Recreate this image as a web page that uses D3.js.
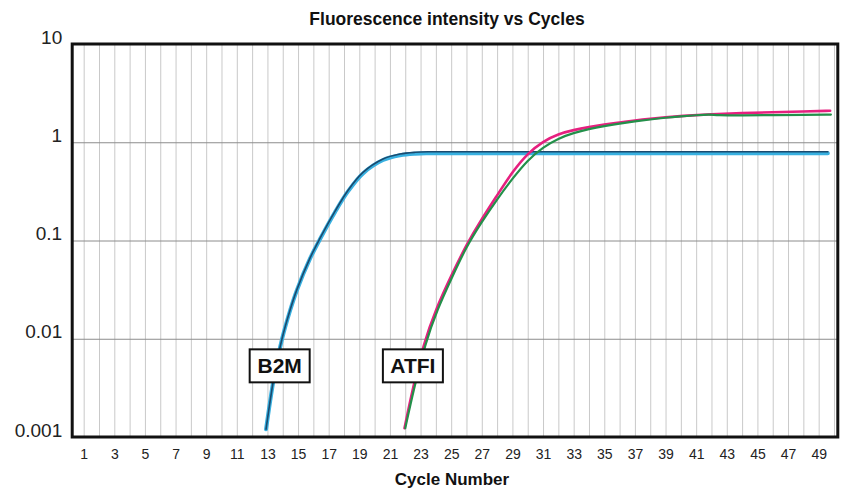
<!DOCTYPE html>
<html>
<head>
<meta charset="utf-8">
<script src="https://cdn.jsdelivr.net/npm/d3@7/dist/d3.min.js"></script>
<style>
  html, body { margin: 0; padding: 0; background: #fff; }
  svg { display: block; }
</style>
</head>
<body>
<svg id="chart" width="843" height="493"></svg>
<script>
// ---------------- data ----------------
const chartTitle = "Fluorescence intensity vs Cycles";
const xAxisTitle = "Cycle Number";
const xTickValues = [1,3,5,7,9,11,13,15,17,19,21,23,25,27,29,31,33,35,37,39,41,43,45,47,49];
const xGridValues = d3.range(1, 51);
const yTickValues = [0.001, 0.01, 0.1, 1, 10];
const yTickLabels = ["0.001", "0.01", "0.1", "1", "10"];

// B2M replicate 1 (light blue)
const b2mCyanCycles = [12.91, 13.43, 13.95, 14.48, 14.93, 15.78, 16.43, 17.41, 18.26, 19.24, 20.55, 21.66, 22.64, 23.62, 35, 49.6];
const b2mCyanValues = [0.0012, 0.00405, 0.00987, 0.0194, 0.0314, 0.0653, 0.103, 0.194, 0.316, 0.482, 0.659, 0.737, 0.765, 0.772, 0.772, 0.772];
// B2M replicate 2 (dark blue)
const b2mNavyCycles = [12.91, 13.43, 13.95, 14.48, 14.93, 15.78, 16.43, 17.41, 18.26, 19.24, 20.55, 21.66, 22.64, 23.62, 35, 49.6];
const b2mNavyValues = [0.0012, 0.00408, 0.00995, 0.0196, 0.0318, 0.0662, 0.105, 0.198, 0.323, 0.493, 0.675, 0.758, 0.79, 0.80, 0.80, 0.80];

// ATFI replicate 1 (magenta)
const atfiPinkCycles = [21.95, 22.5, 23.2, 24, 25, 26, 27, 28, 29, 30, 31, 32, 33, 34, 35, 36, 37, 38, 39, 40, 42, 44, 46, 48, 49.75];
const atfiPinkValues = [0.00123, 0.00316, 0.00891, 0.0200, 0.0437, 0.0912, 0.166, 0.288, 0.501, 0.773, 1.023, 1.216, 1.334, 1.429, 1.514, 1.585, 1.667, 1.738, 1.799, 1.854, 1.928, 1.982, 2.023, 2.061, 2.089];
// ATFI replicate 2 (green)
const atfiGreenCycles = [22.0, 22.55, 23.3, 24.1, 25.1, 26, 27, 28, 29, 30, 31, 32, 33, 34, 35, 36, 37, 38, 39, 40, 41, 41.9, 42.3, 44, 46, 48, 49.8];
const atfiGreenValues = [0.00123, 0.00302, 0.00891, 0.0200, 0.0437, 0.0871, 0.155, 0.263, 0.427, 0.661, 0.891, 1.096, 1.245, 1.365, 1.462, 1.549, 1.629, 1.706, 1.778, 1.832, 1.884, 1.923, 1.884, 1.875, 1.888, 1.901, 1.914];

const labelNames = ["B2M", "ATFI"];
const labelCycles = [13.8, 22.5];
const labelValues = [0.0053, 0.0053];

// ---------------- layout ----------------
const plot = { left: 72.2, right: 837.8, top: 44, bottom: 437 };

const svg = d3.select("#chart");
const x = d3.scaleLinear().domain([0.25, 50.25]).range([plot.left, plot.right]);
const y = d3.scaleLog().domain([0.001, 10]).range([plot.bottom, plot.top]);

const font = "'Liberation Sans', Arial, Helvetica, sans-serif";
const narrow = "'Liberation Sans Narrow', 'Arial Narrow', 'Liberation Sans', Arial, sans-serif";

// vertical grid
svg.append("g")
  .attr("transform", `translate(0,${plot.bottom})`)
  .call(d3.axisBottom(x).tickValues(xGridValues).tickSize(-(plot.bottom - plot.top)).tickFormat(""))
  .call(g => g.select(".domain").remove())
  .call(g => g.selectAll("line").attr("stroke", "#c9c9c9").attr("stroke-width", 1));

// horizontal grid
svg.append("g")
  .attr("transform", `translate(${plot.left},0)`)
  .call(d3.axisLeft(y).tickValues([0.01, 0.1, 1]).tickSize(-(plot.right - plot.left)).tickFormat(""))
  .call(g => g.select(".domain").remove())
  .call(g => g.selectAll("line").attr("stroke", "#8c8c8c").attr("stroke-width", 1));

// series
const zip = (a, b) => a.map((v, i) => [v, b[i]]);
const mkLine = curve => d3.line().x(d => x(d[0])).y(d => y(d[1])).curve(curve);
const smoothB2M = mkLine(d3.curveCatmullRom.alpha(0.5));
const smoothATFI = mkLine(d3.curveBasis);

const series = [
  { c: b2mCyanCycles, v: b2mCyanValues, color: "#38b0e0", w: 4, gen: smoothB2M },
  { c: b2mNavyCycles, v: b2mNavyValues, color: "#1b4a6e", w: 1.6, gen: smoothB2M },
  { c: atfiPinkCycles, v: atfiPinkValues, color: "#e6207f", w: 2.6, gen: smoothATFI },
  { c: atfiGreenCycles, v: atfiGreenValues, color: "#23904a", w: 2.2, gen: smoothATFI }
];
svg.append("g").selectAll("path").data(series).join("path")
  .attr("d", s => s.gen(zip(s.c, s.v)))
  .attr("fill", "none")
  .attr("stroke", s => s.color)
  .attr("stroke-width", s => s.w)
  .attr("stroke-linecap", "round")
  .attr("stroke-linejoin", "round");

// frame
svg.append("rect")
  .attr("x", plot.left).attr("y", plot.top)
  .attr("width", plot.right - plot.left).attr("height", plot.bottom - plot.top)
  .attr("fill", "none").attr("stroke", "#111").attr("stroke-width", 3);

// x tick labels
svg.append("g")
  .attr("transform", `translate(0,${plot.bottom})`)
  .call(d3.axisBottom(x).tickValues(xTickValues).tickSize(0).tickPadding(12).tickFormat(d3.format("d")))
  .call(g => g.select(".domain").remove())
  .call(g => g.selectAll("text").attr("font-family", narrow).attr("font-size", 14).attr("fill", "#222"));

// y tick labels
svg.append("g")
  .attr("transform", `translate(${plot.left},0)`)
  .call(d3.axisLeft(y).tickValues(yTickValues).tickSize(0).tickPadding(10)
    .tickFormat((d, i) => yTickLabels[i]))
  .call(g => g.select(".domain").remove())
  .call(g => g.selectAll("text").attr("font-family", font).attr("font-size", 19).attr("fill", "#222")
    .attr("dy", "-0.05em"));

// titles
svg.append("text")
  .attr("x", 447).attr("y", 25)
  .attr("text-anchor", "middle")
  .attr("font-family", font).attr("font-weight", "bold").attr("font-size", 17.5)
  .attr("fill", "#111")
  .text(chartTitle);

svg.append("text")
  .attr("x", 452).attr("y", 485)
  .attr("text-anchor", "middle")
  .attr("font-family", font).attr("font-weight", "bold").attr("font-size", 17)
  .attr("fill", "#111")
  .text(xAxisTitle);

// labels
const lab = svg.append("g").selectAll("g").data(labelNames).join("g")
  .attr("transform", (d, i) => `translate(${x(labelCycles[i])},${y(labelValues[i])})`);
lab.append("rect")
  .attr("x", -30).attr("y", -16.5).attr("width", 60).attr("height", 33)
  .attr("fill", "#fff").attr("stroke", "#111").attr("stroke-width", 2);
lab.append("text")
  .attr("text-anchor", "middle").attr("dy", "0.36em")
  .attr("font-family", font).attr("font-weight", "bold").attr("font-size", 21)
  .attr("fill", "#111")
  .text(d => d);
</script>
</body>
</html>
